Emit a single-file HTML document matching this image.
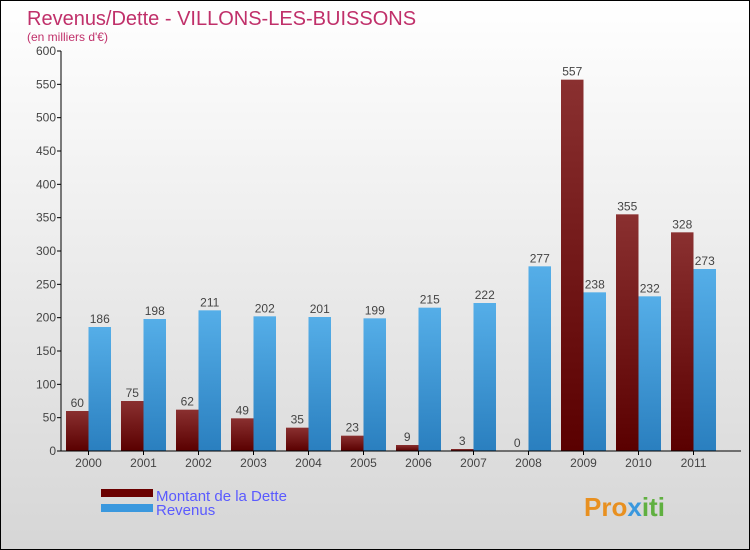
<!DOCTYPE html>
<html><head><meta charset="utf-8"><style>
body{margin:0}
#c{width:750px;height:550px;position:relative;box-sizing:border-box;border:1px solid #000;background:linear-gradient(#ffffff,#d6d6d6);font-family:"Liberation Sans",sans-serif;overflow:hidden}
</style></head><body>
<div id="c">
<svg width="750" height="550" id="s">
<defs>
<linearGradient id="gd" x1="0" y1="0" x2="0" y2="1"><stop offset="0" stop-color="#8a3030"/><stop offset="1" stop-color="#5a0000"/></linearGradient>
<linearGradient id="gr" x1="0" y1="0" x2="0" y2="1"><stop offset="0" stop-color="#55aee8"/><stop offset="1" stop-color="#2a7fbf"/></linearGradient>
</defs>
<text x="26" y="24" font-size="20" fill="#c0306a">Revenus/Dette - VILLONS-LES-BUISSONS</text>
<text x="26" y="40" font-size="12" fill="#c0306a">(en milliers d'€)</text>
<g id="g"></g>
<rect x="100" y="488" width="52" height="8" fill="#6a0000"/>
<rect x="100" y="503" width="52" height="8" fill="#3a98de"/>
<text x="155" y="500" font-size="15" fill="#5a5aff">Montant de la Dette</text>
<text x="155" y="514" font-size="15" fill="#5a5aff">Revenus</text>
<text x="583" y="515" font-size="26" font-weight="bold" fill="#e89020">Pro<tspan fill="#3a98de">x</tspan><tspan fill="#60b040">iti</tspan></text>
</svg>
</div>
<script>
const years=["2000","2001","2002","2003","2004","2005","2006","2007","2008","2009","2010","2011"];
const dette=[60,75,62,49,35,23,9,3,0,557,355,328];
const revenus=[186,198,211,202,201,199,215,222,277,238,232,273];
const ticks=[0,50,100,150,200,250,300,350,400,450,500,550,600];
const NS="http://www.w3.org/2000/svg";
const g=document.getElementById('g');
const x0=60,band=55,y0=450,ppu=400/600;
const Y=v=>y0-v*ppu, X=i=>x0+band*i+band/2;
function mk(t,a){const e=document.createElementNS(NS,t);for(const k in a)e.setAttribute(k,a[k]);g.appendChild(e);return e;}
ticks.forEach(t=>{
 const l=mk('line',{x1:x0-4,x2:x0,y1:Y(t),y2:Y(t),stroke:'#000'});
 
 
 const tx=mk('text',{x:x0-5,y:Y(t)+4,'font-size':12,fill:'#444','text-anchor':'end'});tx.textContent=t;
 
 
});
years.forEach((yr,i)=>{
 const c=X(i),w=22.5;
 const b1=mk('rect',{x:c-w,y:Y(dette[i]),width:w,height:dette[i]*ppu,fill:'url(#gd)'});
 
 
 const b2=mk('rect',{x:c,y:Y(revenus[i]),width:w,height:revenus[i]*ppu,fill:'url(#gr)'});
 
 
 const t1=mk('text',{x:c-w/2,y:Y(dette[i])-4,'font-size':12,fill:'#444','text-anchor':'middle'});t1.textContent=dette[i];
 
 
 const t2=mk('text',{x:c+w/2,y:Y(revenus[i])-4,'font-size':12,fill:'#444','text-anchor':'middle'});t2.textContent=revenus[i];
 
 
 const tk=mk('line',{x1:c,x2:c,y1:y0,y2:y0+4,stroke:'#000'});
 
 
 const lb=mk('text',{x:c,y:y0+16,'font-size':12,fill:'#444','text-anchor':'middle'});lb.textContent=yr;
 
 
});
const ya=mk('line',{x1:x0,x2:x0,y1:Y(600),y2:y0,stroke:'#000'});


const xa=mk('line',{x1:x0,x2:740,y1:y0,y2:y0,stroke:'#000'});


</script>
</body></html>
